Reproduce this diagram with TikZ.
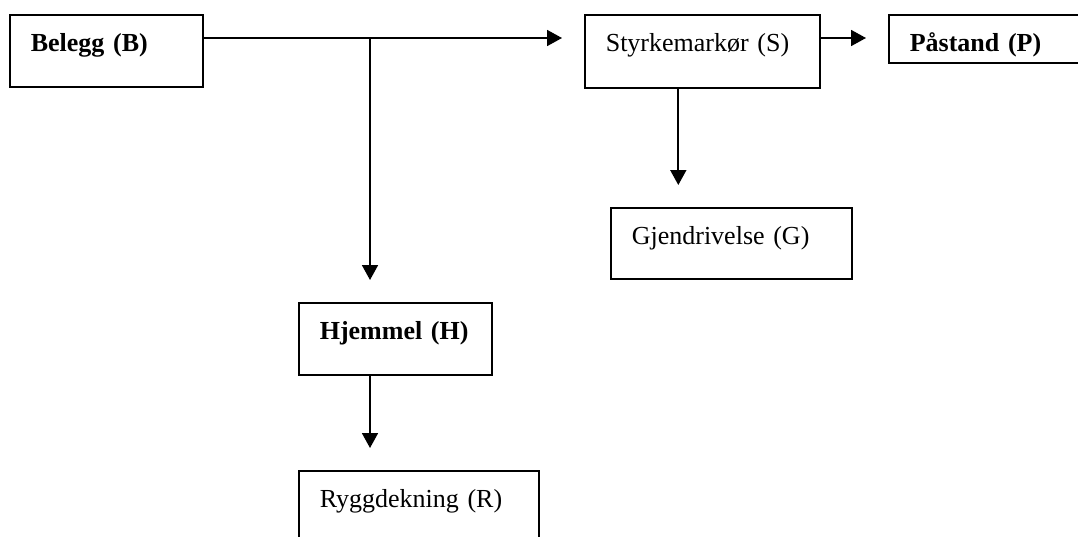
\documentclass[tikz,border=0pt]{standalone}
\usepackage{fontspec}
\setmainfont{Liberation Serif}
\usetikzlibrary{arrows.meta}
\begin{document}
\begin{tikzpicture}[x=1pt,y=-1pt,
  box/.style={draw,line width=1.6pt,anchor=north west,align=left,inner xsep=21pt,inner ysep=0pt,text height=37pt,font=\fontsize{26}{30}\selectfont},
  link/.style={line width=1.8pt,-{Triangle[length=15pt,width=16pt]},shorten >=22pt}]
\clip (0,0) rectangle (1078,536);
\node[box,text width=151pt,text depth=35pt] (B) at (9,14) {\textbf{Belegg (B)}};
\node[box,text width=193pt,text depth=36pt] (S) at (584,14) {Styrkemarkør (S)};
\node[box,text width=158pt,text depth=11pt] (P) at (888,14) {\textbf{Påstand (P)}};
\node[box,text width=199pt,text depth=34pt] (G) at (610,207) {Gjendrivelse (G)};
\node[box,text width=151pt,text depth=35pt] (H) at (298,302) {\textbf{Hjemmel (H)}};
\node[box,text width=198pt,text depth=43pt] (R) at (298,470) {Ryggdekning (R)};
\coordinate (fork) at (370,38);
\draw[link] (B.east |- fork) -- (S.west |- fork);
\draw[link] (fork) -- (fork |- H.north);
\draw[link] (S.east |- fork) -- (P.west |- fork);
\draw[link] ([xshift=-24pt]S.south) -- ([xshift=-24pt]S.south |- G.north);
\draw[link] (H.south -| fork) -- (R.north -| fork);
\end{tikzpicture}
\end{document}
